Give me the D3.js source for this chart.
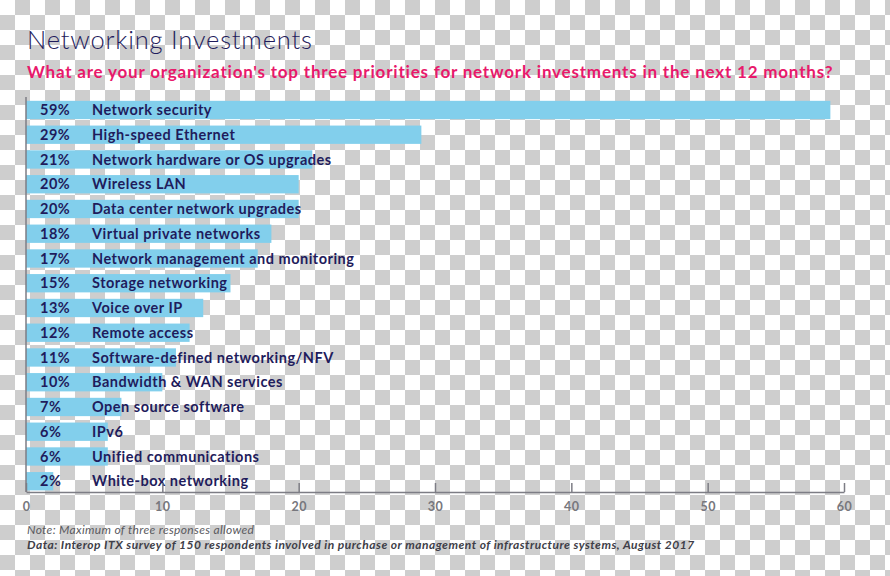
<!DOCTYPE html>
<html lang="en">
  <head>
    <meta charset="UTF-8" />
    <title>Networking Investments</title>
    <script src="https://d3js.org/d3.v7.min.js"></script>
    <style>
      body { margin: 0; }
      svg { display: block; font-family: Lato, "Open Sans", sans-serif; }
    </style>
  </head>
  <body>
    <script>
      // data
      const categories = [
        "Network security", "High-speed Ethernet", "Network hardware or OS upgrades",
        "Wireless LAN", "Data center network upgrades", "Virtual private networks",
        "Network management and monitoring", "Storage networking", "Voice over IP",
        "Remote access", "Software-defined networking/NFV", "Bandwidth & WAN services",
        "Open source software", "IPv6", "Unified communications", "White-box networking"
      ];
      const values = [59, 29, 21, 20, 20, 18, 17, 15, 13, 12, 11, 10, 7, 6, 6, 2];
      const xTicks = [0, 10, 20, 30, 40, 50, 60];

      const width = 890;
      const height = 576;
      const navy = "#1f1c5c";

      const svg = d3.select("body").append("svg")
        .attr("width", width)
        .attr("height", height);

      // checkerboard backdrop (transparent png look)
      const pat = svg.append("defs").append("pattern")
        .attr("id", "checker")
        .attr("width", 30).attr("height", 30)
        .attr("patternUnits", "userSpaceOnUse");
      pat.append("rect").attr("width", 30).attr("height", 30).attr("fill", "#ffffff");
      pat.append("rect").attr("x", 15).attr("y", 0).attr("width", 15).attr("height", 15).attr("fill", "#cecece");
      pat.append("rect").attr("x", 0).attr("y", 15).attr("width", 15).attr("height", 15).attr("fill", "#cecece");
      svg.append("rect").attr("width", width).attr("height", height).attr("fill", "url(#checker)");

      const x = d3.scaleLinear().domain([0, 60]).range([26, 844]);
      const y = d3.scaleBand().domain(categories)
        .range([97.6, 493.6]).paddingInner(0.26).paddingOuter(0.13);

      const data = categories.map((c, i) => ({ cat: c, val: values[i] }));

      // titles
      svg.append("text")
        .attr("x", 27).attr("y", 48.5)
        .attr("fill", navy)
        .style("font-size", "25.5px").style("font-weight", 300)
        .style("letter-spacing", "0.8px")
        .text("Networking Investments");

      svg.append("text")
        .attr("x", 27).attr("y", 77.5)
        .attr("fill", "#e8196b")
        .style("font-size", "17px").style("font-weight", 700)
        .style("letter-spacing", "0.8px")
        .text("What are your organization's top three priorities for network investments in the next 12 months?");

      // bars
      svg.append("g").selectAll("rect")
        .data(data)
        .join("rect")
        .attr("x", x(0))
        .attr("y", d => y(d.cat))
        .attr("width", d => x(d.val) - x(0))
        .attr("height", y.bandwidth())
        .attr("fill", "#82cfec");

      const labels = svg.append("g")
        .style("font-size", "14.5px").style("font-weight", 700)
        .style("letter-spacing", "0.5px")
        .attr("fill", navy);
      labels.selectAll(".pct")
        .data(data)
        .join("text")
        .attr("class", "pct")
        .attr("x", 40)
        .attr("y", d => y(d.cat) + y.bandwidth() / 2)
        .attr("dy", "0.36em")
        .text(d => d.val + "%");
      labels.selectAll(".cat")
        .data(data)
        .join("text")
        .attr("class", "cat")
        .attr("x", 92)
        .attr("y", d => y(d.cat) + y.bandwidth() / 2)
        .attr("dy", "0.36em")
        .text(d => d.cat);

      // axes
      const axis = svg.append("g")
        .attr("transform", "translate(0,492)")
        .call(d3.axisBottom(x).tickValues(xTicks).tickSizeInner(-9).tickSizeOuter(0).tickPadding(10));
      axis.select(".domain").attr("stroke", "#7d7d85").attr("stroke-width", 1.5);
      axis.selectAll(".tick line").attr("stroke", "#7d7d85").attr("stroke-width", 1.5);
      axis.selectAll(".tick text")
        .attr("fill", "#77777d")
        .style("font-size", "12.5px").style("font-weight", 700)
        .style("letter-spacing", "0.5px")
        .style("font-family", "Lato, sans-serif");

      svg.append("line")
        .attr("x1", x(0)).attr("x2", x(0))
        .attr("y1", 97).attr("y2", 492)
        .attr("stroke", "#7d7d85").attr("stroke-width", 1.5);

      // footnotes
      svg.append("text")
        .attr("x", 27).attr("y", 534)
        .attr("fill", "#5a5a60")
        .style("font-size", "12px").style("font-style", "italic")
        .style("letter-spacing", "0.33px")
        .text("Note: Maximum of three responses allowed");
      svg.append("text")
        .attr("x", 27).attr("y", 549)
        .attr("fill", "#3e3e48")
        .style("font-size", "12px").style("font-style", "italic").style("font-weight", 700)
        .style("letter-spacing", "0.49px")
        .text("Data: Interop ITX survey of 150 respondents involved in purchase or management of infrastructure systems, August 2017");
    </script>
  </body>
</html>
